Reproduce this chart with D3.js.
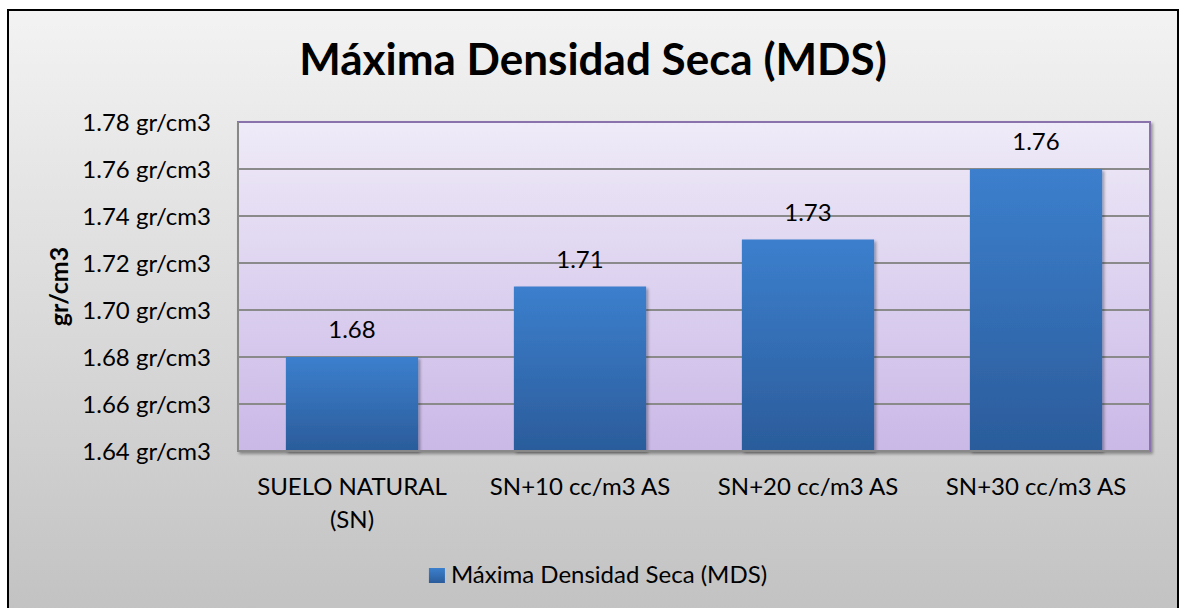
<!DOCTYPE html>
<html>
<head>
<meta charset="utf-8">
<script src="https://cdn.jsdelivr.net/npm/d3@7"></script>
<style>
  html, body { margin: 0; padding: 0; background: #ffffff; }
  svg { display: block; font-family: Lato, "Open Sans", sans-serif; }
</style>
</head>
<body>
<svg id="chart" width="1180" height="608"></svg>
<script>
// Maximum dry density per mix
const categories = ["SUELO NATURAL (SN)", "SN+10 cc/m3 AS", "SN+20 cc/m3 AS", "SN+30 cc/m3 AS"];
const mdsValues = [1.68, 1.71, 1.73, 1.76];
const yTicks = [1.64, 1.66, 1.68, 1.70, 1.72, 1.74, 1.76, 1.78];
const seriesName = "Máxima Densidad Seca (MDS)";
const chartTitle = "Máxima Densidad Seca (MDS)";
const yAxisTitle = "gr/cm3";
const unitSuffix = " gr/cm3";

const W = 1180, H = 608;
const plot = { left: 238, right: 1150, top: 122, bottom: 451 };

const svg = d3.select("#chart");
const defs = svg.append("defs");

function vGrad(id, stops) {
  const g = defs.append("linearGradient").attr("id", id)
    .attr("x1", 0).attr("y1", 0).attr("x2", 0).attr("y2", 1);
  stops.forEach(([o, c]) => g.append("stop").attr("offset", o).attr("stop-color", c));
}
vGrad("bgGrad", [[0, "#f3f3f3"], [1, "#c2c2c2"]]);
vGrad("plotGrad", [[0, "#efebf8"], [1, "#cab8e7"]]);
vGrad("barGrad", [[0, "#3c7fcd"], [1, "#2b5c9b"]]);

const shadow = defs.append("filter").attr("id", "shadow")
  .attr("x", "-10%").attr("y", "-10%").attr("width", "130%").attr("height", "130%");
shadow.append("feDropShadow").attr("dx", 2).attr("dy", 2)
  .attr("stdDeviation", 1.6).attr("flood-color", "#000").attr("flood-opacity", 0.35);

// chart area
svg.append("rect")
  .attr("x", 8).attr("y", 10).attr("width", 1170).attr("height", 604)
  .attr("fill", "url(#bgGrad)").attr("stroke", "#000").attr("stroke-width", 2);

// scales
const x = d3.scaleBand().domain(categories)
  .range([plot.left, plot.right]).paddingInner(0.42).paddingOuter(0.21);
const y = d3.scaleLinear().domain([1.64, 1.78]).range([plot.bottom, plot.top]);

// plot area
svg.append("rect")
  .attr("x", plot.left).attr("y", plot.top)
  .attr("width", plot.right - plot.left).attr("height", plot.bottom - plot.top)
  .attr("fill", "url(#plotGrad)").attr("stroke", "#8a72ad").attr("stroke-width", 2)
  .attr("filter", "url(#shadow)");

// gridlines
svg.append("g").selectAll("line")
  .data(yTicks.filter(t => t > 1.64 && t < 1.78))
  .join("line")
  .attr("x1", plot.left).attr("x2", plot.right)
  .attr("y1", d => y(d)).attr("y2", d => y(d))
  .attr("stroke", "#8a8a8a").attr("stroke-width", 2);

// bars
svg.append("g").selectAll("rect")
  .data(mdsValues)
  .join("rect")
  .attr("x", (d, i) => x(categories[i]))
  .attr("y", d => y(d))
  .attr("width", x.bandwidth())
  .attr("height", d => y(1.64) - y(d))
  .attr("fill", "url(#barGrad)")
  .attr("filter", "url(#shadow)");

// axis lines
svg.append("line")
  .attr("x1", plot.left).attr("x2", plot.left)
  .attr("y1", plot.top).attr("y2", plot.bottom)
  .attr("stroke", "#888").attr("stroke-width", 2);
svg.append("line")
  .attr("x1", plot.left - 1).attr("x2", plot.right)
  .attr("y1", plot.bottom).attr("y2", plot.bottom)
  .attr("stroke", "#888").attr("stroke-width", 2);

// y axis
const yAxis = svg.append("g")
  .attr("transform", `translate(${plot.left},0)`)
  .call(d3.axisLeft(y).tickValues(yTicks).tickSize(0).tickPadding(27)
    .tickFormat(d => d.toFixed(2) + unitSuffix));
yAxis.select(".domain").remove();
yAxis.selectAll("text")
  .attr("font-family", "Lato, sans-serif")
  .attr("font-size", 24).attr("fill", "#000").attr("dy", "0.35em");

// x axis with wrapped labels
const xAxis = svg.append("g")
  .attr("transform", `translate(0,${plot.bottom})`)
  .call(d3.axisBottom(x).tickSize(0).tickPadding(0));
xAxis.select(".domain").remove();
xAxis.selectAll("text")
  .attr("font-family", "Lato, sans-serif")
  .attr("font-size", 24).attr("fill", "#000")
  .attr("y", 44).attr("dy", 0)
  .each(function () {
    const t = d3.select(this);
    const words = t.text().split(/\s+/);
    const maxW = x.step() * 0.92;
    t.text(null);
    let line = [], lineNo = 0;
    let tspan = t.append("tspan").attr("x", 0).attr("dy", 0);
    words.forEach(w => {
      line.push(w);
      tspan.text(line.join(" "));
      if (tspan.node().getComputedTextLength() > maxW && line.length > 1) {
        line.pop();
        tspan.text(line.join(" "));
        line = [w];
        lineNo++;
        tspan = t.append("tspan").attr("x", 0).attr("dy", 33).text(w);
      }
    });
  });

// data labels
svg.append("g").selectAll("text")
  .data(mdsValues)
  .join("text")
  .attr("x", (d, i) => x(categories[i]) + x.bandwidth() / 2)
  .attr("y", d => y(d) - 19)
  .attr("text-anchor", "middle")
  .attr("font-size", 24).attr("fill", "#000")
  .text(d => d.toFixed(2));

// y axis title
svg.append("text")
  .attr("transform", `translate(68,${(plot.top + plot.bottom) / 2}) rotate(-90)`)
  .attr("text-anchor", "middle")
  .attr("font-size", 25).attr("font-weight", "bold").attr("fill", "#000")
  .text(yAxisTitle);

// chart title
svg.append("text")
  .attr("x", 593).attr("y", 75)
  .attr("text-anchor", "middle")
  .attr("font-size", 44).attr("font-weight", "bold").attr("fill", "#000")
  .text(chartTitle);

// legend
const legend = svg.append("g");
legend.append("rect")
  .attr("x", 0).attr("y", -15).attr("width", 16).attr("height", 15)
  .attr("fill", "url(#barGrad)");
const legText = legend.append("text")
  .attr("x", 22).attr("y", 0)
  .attr("font-size", 24).attr("fill", "#000")
  .text(seriesName);
const legW = 22 + legText.node().getComputedTextLength();
legend.attr("transform", `translate(${598 - legW / 2},583)`);
</script>
</body>
</html>
